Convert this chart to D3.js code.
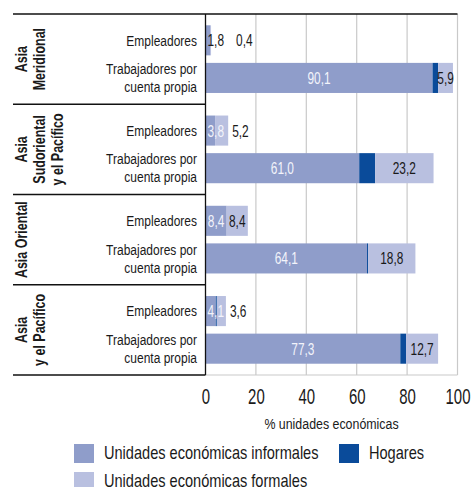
<!DOCTYPE html>
<html>
<head>
<meta charset="utf-8">
<script src="https://cdn.jsdelivr.net/npm/d3@7"></script>
<style>
  html, body { margin: 0; padding: 0; background: #ffffff; }
  svg text { font-family: "Liberation Sans", Arial, sans-serif; }
</style>
</head>
<body>
<svg id="chart" width="472" height="487"></svg>
<script>
// ---- data ----
const groups = ["Asia Meridional", "Asia Sudoriental y el Pacífico", "Asia Oriental", "Asia y el Pacífico"];
const groupLabelLines = [["Asia", "Meridional"], ["Asia", "Sudoriental", "y el Pacífico"], ["Asia Oriental"], ["Asia", "y el Pacífico"]];
const rows = ["Empleadores", "Trabajadores por cuenta propia"];
const rowLabelLines = [["Empleadores"], ["Trabajadores por", "cuenta propia"]];
const informal = [[1.8, 90.1], [3.8, 61.0], [8.4, 64.1], [4.1, 77.3]];
const hogares  = [[0.0, 2.2], [0.0, 6.3], [0.0, 0.4], [0.4, 2.3]];
const formal   = [[0.4, 5.9], [5.2, 23.2], [8.4, 18.8], [3.6, 12.7]];
const xTicks = [0, 20, 40, 60, 80, 100];
const seriesNames = ["Unidades económicas informales", "Hogares", "Unidades económicas formales"];
const seriesColors = ["#8f9dca", "#0a4b9a", "#b9c0e0"];
const axisTitle = "% unidades económicas";

const fmt = v => v.toFixed(1).replace(".", ",");

const svg = d3.select("#chart");
const x = d3.scaleLinear().domain([0, 100]).range([205.5, 457.5]);
const yG = d3.scaleBand().domain(groups).range([14, 375]);
const yR = d3.scaleBand().domain(rows).range([0, yG.bandwidth()]).paddingInner(0.2).paddingOuter(0.3);
const leftX = 13;
const ink = "#1a1a1a";

// condensed text helper: horizontal squeeze via transform
function ctext(parent, tx, ty, str, o) {
  const sx = o.sx || 0.85;
  return parent.append("text")
    .attr("transform", `translate(${tx},${ty})${o.rot ? " rotate(" + o.rot + ")" : ""} scale(${sx},1)`)
    .attr("text-anchor", o.anchor || "start")
    .attr("dy", "0.35em")
    .attr("font-size", o.size || 14)
    .attr("font-weight", o.weight || "normal")
    .attr("fill", o.fill || ink)
    .text(str);
}

// gridlines
svg.append("g").selectAll("line").data(xTicks.filter(d => d > 0)).join("line")
  .attr("x1", d => x(d)).attr("x2", d => x(d))
  .attr("y1", yG.range()[0]).attr("y2", yG.range()[1])
  .attr("stroke", "#c9c9c9").attr("stroke-width", 1.2);
svg.append("line").attr("x1", x(0)).attr("x2", x(100))
  .attr("y1", yG.range()[1]).attr("y2", yG.range()[1])
  .attr("stroke", "#c9c9c9").attr("stroke-width", 1.2);

// records
const records = [];
groups.forEach((g, gi) => rows.forEach((r, ri) => {
  const inf = informal[gi][ri], hog = hogares[gi][ri], frm = formal[gi][ri];
  records.push({ g, r, gi, ri, inf, hog, frm,
    segs: [[0, inf], [inf, inf + hog], [inf + hog, inf + hog + frm]] });
}));

const rowG = svg.append("g").selectAll("g").data(records).join("g")
  .attr("transform", d => `translate(0,${yG(d.g) + yR(d.r)})`);

rowG.selectAll("rect").data(d => d.segs.map((s, i) => ({ s, i }))).join("rect")
  .attr("x", d => x(d.s[0]))
  .attr("width", d => Math.max(0, x(d.s[1]) - x(d.s[0])))
  .attr("y", 0).attr("height", yR.bandwidth())
  .attr("fill", d => seriesColors[d.i]);

// value labels
const bh = yR.bandwidth();
const vSx = 0.7, vSize = 17;
rowG.each(function(d) {
  const g = d3.select(this);
  const barEnd = x(d.inf + d.hog + d.frm);
  const infT = ctext(g, 0, bh / 2, fmt(d.inf), { size: vSize, sx: vSx, fill: "#f3f4fb" });
  const wI = infT.node().getComputedTextLength() * vSx;
  const segI = x(d.inf) - x(0);
  let infEnd;
  if (segI >= wI + 2) {
    const cx = (x(0) + x(d.inf)) / 2;
    infT.attr("text-anchor", "middle").attr("transform", `translate(${cx},${bh / 2}) scale(${vSx},1)`);
    infEnd = cx + wI / 2;
  } else {
    infT.attr("transform", `translate(${x(0) + 2},${bh / 2}) scale(${vSx},1)`);
    infEnd = x(0) + 2 + wI;
  }
  if (infEnd > barEnd + 2) infT.attr("fill", ink);
  const fT = ctext(g, 0, bh / 2, fmt(d.frm), { size: vSize, sx: vSx, fill: ink });
  const wF = fT.node().getComputedTextLength() * vSx;
  const f0 = x(d.inf + d.hog), f1 = barEnd;
  if (f1 - f0 >= wF - 2) {
    fT.attr("text-anchor", "middle").attr("transform", `translate(${(f0 + f1) / 2},${bh / 2}) scale(${vSx},1)`);
  } else {
    let sx = f1 + 4;
    if (sx < infEnd + 2) sx = infEnd + 12;
    fT.attr("transform", `translate(${sx},${bh / 2}) scale(${vSx},1)`);
  }
});

// row labels
rowG.each(function(d) {
  const lines = rowLabelLines[d.ri];
  lines.forEach((ln, i) => {
    ctext(d3.select(this), 197, bh / 2 + (i - (lines.length - 1) / 2) * 18, ln,
      { anchor: "end", size: 15, sx: 0.8 });
  });
});

// frame lines
svg.append("line").attr("x1", leftX).attr("x2", x(100))
  .attr("y1", yG.range()[0]).attr("y2", yG.range()[0])
  .attr("stroke", "#111").attr("stroke-width", 1.5);
svg.append("g").selectAll("line").data(groups.slice(1)).join("line")
  .attr("x1", leftX).attr("x2", x(0))
  .attr("y1", d => yG(d)).attr("y2", d => yG(d))
  .attr("stroke", "#111").attr("stroke-width", 1.3);
svg.append("line").attr("x1", leftX).attr("x2", x(0))
  .attr("y1", yG.range()[1]).attr("y2", yG.range()[1])
  .attr("stroke", "#111").attr("stroke-width", 1.3);
svg.append("line").attr("x1", x(0)).attr("x2", x(0))
  .attr("y1", yG.range()[0]).attr("y2", yG.range()[1])
  .attr("stroke", "#111").attr("stroke-width", 1.3);

// group labels (rotated)
groups.forEach((g, gi) => {
  const cy = yG(g) + yG.bandwidth() / 2;
  groupLabelLines[gi].forEach((ln, i) => {
    ctext(svg, 21 + 18 * i, cy, ln, { rot: -90, anchor: "middle", size: 16, sx: 0.78, weight: "bold" });
  });
});

// x axis
const ax = svg.append("g").attr("transform", `translate(0,${yG.range()[1]})`)
  .call(d3.axisBottom(x).tickValues(xTicks).tickFormat(d3.format("d")).tickSize(0).tickPadding(13));
ax.select(".domain").remove();
ax.selectAll("text").attr("font-size", 22).attr("fill", ink)
  .attr("font-family", '"Liberation Sans", Arial, sans-serif')
  .attr("transform", "scale(0.68,1)");

ctext(svg, (x(0) + x(100)) / 2, 424, axisTitle, { anchor: "middle", size: 15.5, sx: 0.8 });

// legend
const legendPos = [[74, 444], [339, 444], [74, 472]];
const lg = svg.append("g").selectAll("g").data(seriesNames).join("g")
  .attr("transform", (d, i) => `translate(${legendPos[i][0]},${legendPos[i][1]})`);
lg.append("rect").attr("width", 20).attr("height", 19).attr("fill", (d, i) => seriesColors[i]);
lg.each(function(d) {
  ctext(d3.select(this), 30, 9, d, { size: 18, sx: 0.81 });
});
</script>
</body>
</html>
